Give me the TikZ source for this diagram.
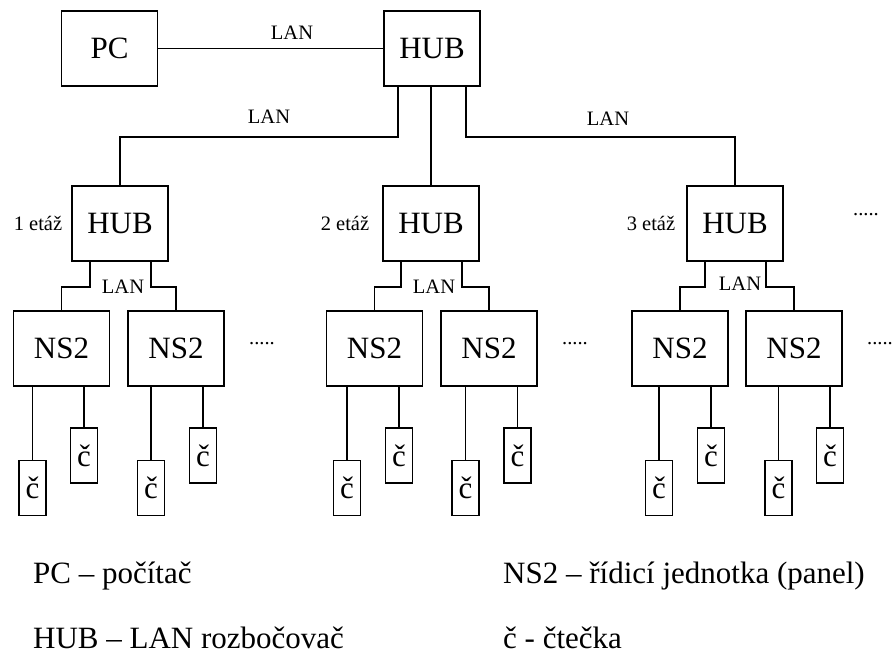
\documentclass[tikz,border=0pt]{standalone}
\usepackage{fontspec}
\setmainfont{Liberation Serif}
\newcommand\bigf{\fontsize{31}{36}\selectfont}
\newcommand\smallf{\fontsize{20.5}{24}\selectfont}
\begin{document}
\begin{tikzpicture}[x=1pt,y=-1pt,
  wire/.style={line width=1.7pt},
  box/.style={draw,line width=1.7pt,minimum width=96pt,minimum height=75pt,inner sep=0pt,font=\bigf},
  rdr/.style={draw,line width=1.7pt,minimum width=27pt,minimum height=55pt,inner sep=0pt,font=\bigf},
  lbl/.style={inner sep=0pt,font=\smallf},
  leg/.style={inner sep=0pt,anchor=base west,font=\bigf}]
\useasboundingbox (0,0) rectangle (892,654);
% top level
\node[box] (pc) at (109.5,48.5) {PC};
\node[box] (hub0) at (432,48.5) {HUB};
\draw[wire] (pc.east) -- (hub0.west);
\node[lbl] (lan0) at (292,33) {LAN};
% floor hubs
\node[box] (hub1) at (120,223.5) {HUB};
\node[box] (hub2) at (431,223.5) {HUB};
\node[box] (hub3) at (735,223.5) {HUB};
\node[lbl] (et1) at (38,223) {1 etáž};
\node[lbl] (et2) at (345,223) {2 etáž};
\node[lbl] (et3) at (651,223) {3 etáž};
\node[lbl] (dtop) at (866,215) {.....};
\draw[wire] ([xshift=-34pt]hub0.south) -- ++(0,50) -| (hub1.north);
\draw[wire] (hub2.north |- hub0.south) -- (hub2.north);
\draw[wire] ([xshift=34pt]hub0.south) -- ++(0,50) -| (hub3.north);
\node[lbl] (lan1) at (269,117) {LAN};
\node[lbl] (lan2) at (608,119) {LAN};
% NS2 boxes
\foreach \g/\xa/\xb in {1/61.5/176, 2/374.5/489, 3/680/794} {
  \node[box] (ns\g a) at (\xa,348.5) {NS2};
  \node[box] (ns\g b) at (\xb,348.5) {NS2};
  \draw[wire] ([xshift=-30pt]hub\g.south) -- ++(0,25) -| (ns\g a.north);
  \draw[wire] ([xshift=31pt]hub\g.south) -- ++(0,25) -| (ns\g b.north);
}
\node[lbl] (l1) at (123,287) {LAN};
\node[lbl] (l2) at (434,287) {LAN};
\node[lbl] (l3) at (740,284) {LAN};
\node[lbl] (d1) at (262,344) {.....};
\node[lbl] (d2) at (575,344) {.....};
\node[lbl] (d3) at (880,344) {.....};
% readers
\foreach \n/\ns/\xl/\xh in {1/ns1a/32.5/84, 2/ns1b/151/203, 3/ns2a/347/399, 4/ns2b/465.5/517.5, 5/ns3a/659/711, 6/ns3b/778.5/830} {
  \node[rdr] (cl\n) at (\xl,488) {č};
  \node[rdr] (ch\n) at (\xh,455.5) {č};
  \draw[wire] (cl\n.north |- \ns.south) -- (cl\n.north);
  \draw[wire] (ch\n.north |- \ns.south) -- (ch\n.north);
}
% legend
\node[leg] (g1) at (33,583) {PC – počítač};
\node[leg] (g2) at (33,648) {HUB – LAN rozbočovač};
\node[leg] (g3) at (503,583) {NS2 – řídicí jednotka (panel)};
\node[leg] (g4) at (503,648) {č - čtečka};
\end{tikzpicture}
\end{document}
